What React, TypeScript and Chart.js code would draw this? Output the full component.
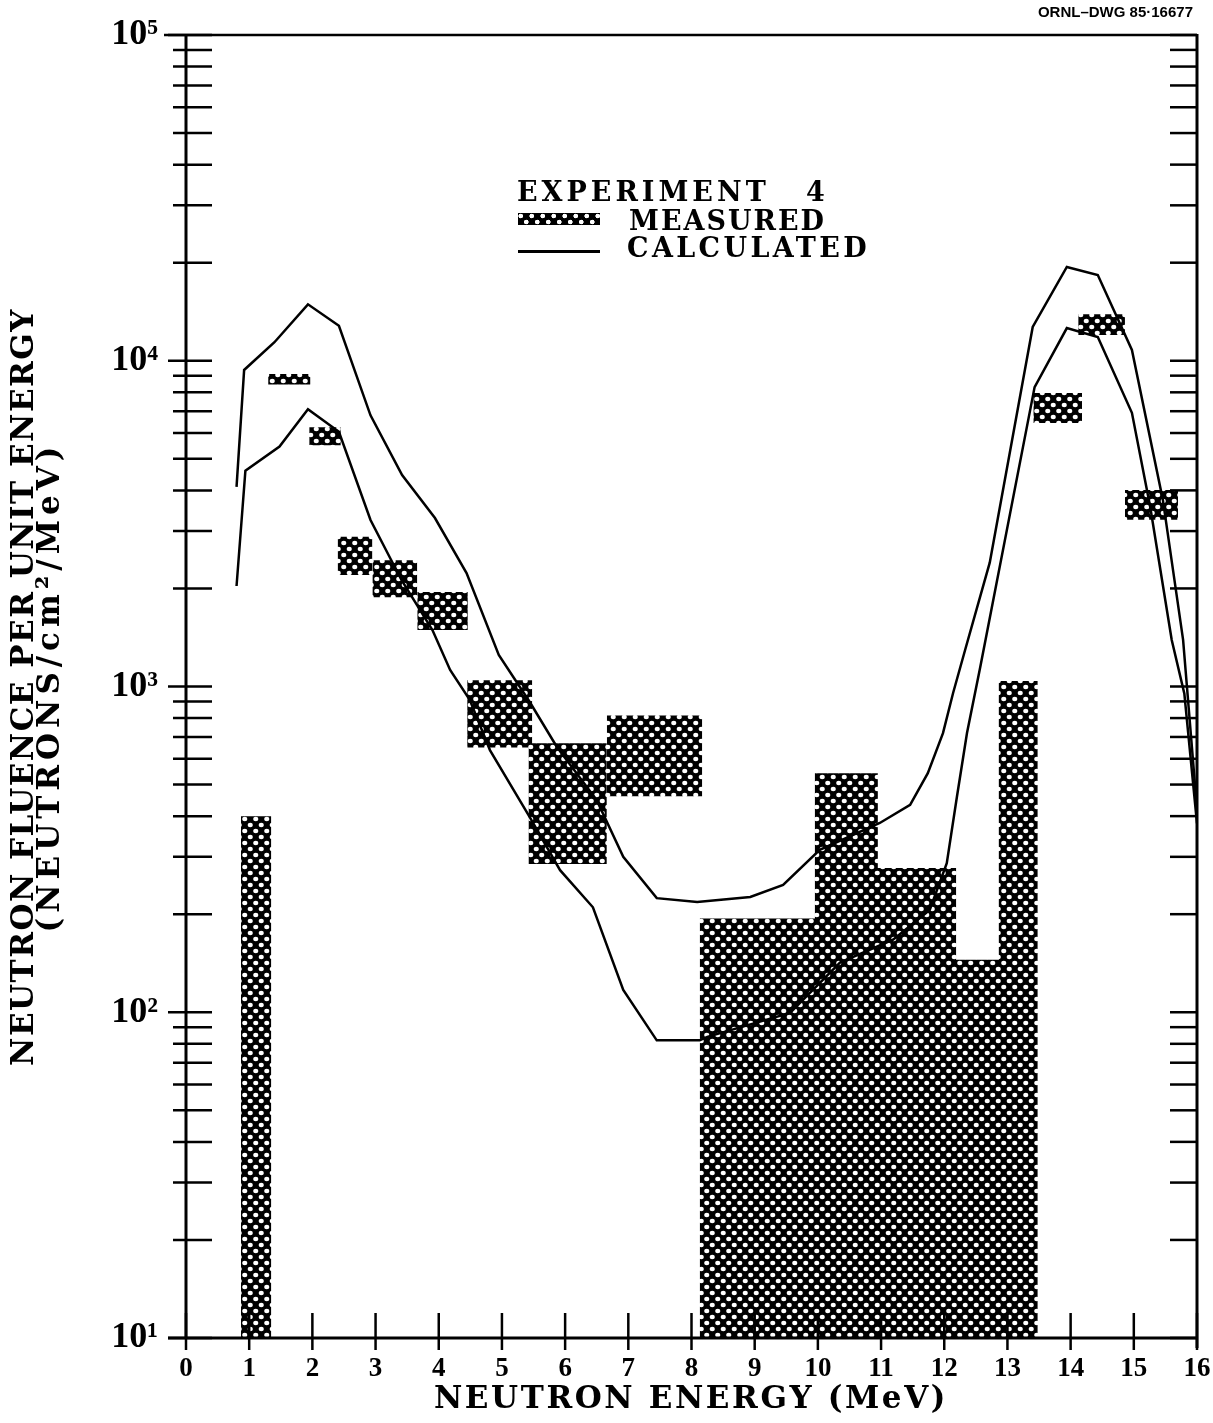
import React, { useEffect, useRef } from 'react';
import { Chart, registerables } from 'chart.js';

Chart.register(...registerables);

// ---------- DATA ----------
// Calculated spectrum, upper curve (energy MeV, fluence per MeV)
const calcUpperX = [0.8, 0.92, 1.4, 1.93, 2.42, 2.92, 3.42, 3.94, 4.44, 4.95, 5.44, 5.87, 6.5, 6.92, 7.45, 8.09, 8.93, 9.45, 10.03, 10.98, 11.46, 11.74, 11.98, 12.14, 12.33, 12.72, 13.4, 13.94, 14.43, 14.97, 15.46, 15.78, 16.0];
const calcUpperY = [4100, 9370, 11400, 14900, 12800, 6800, 4460, 3290, 2230, 1250, 896, 652, 448, 300, 224, 218, 226, 246, 315, 381, 433, 542, 719, 955, 1294, 2400, 12700, 19400, 18340, 10790, 3740, 1390, 420];

// Calculated spectrum, lower curve
const calcLowerX = [0.8, 0.94, 1.48, 1.93, 2.42, 2.92, 3.41, 3.9, 4.18, 4.49, 4.81, 5.44, 5.92, 6.44, 6.92, 7.45, 8.13, 8.25, 9.56, 10.35, 11.19, 11.77, 12.04, 12.2, 12.36, 12.57, 13.43, 13.94, 14.43, 14.97, 15.26, 15.6, 15.8, 16.0];
const calcLowerY = [2035, 4600, 5450, 7100, 6055, 3245, 2123, 1490, 1124, 910, 638, 397, 273, 210, 117, 82, 82, 84, 99.5, 142, 167, 206, 287, 458, 720, 1148, 8300, 12600, 11830, 6920, 3557, 1390, 950, 380];

// Measured spectrum: energy bins with lower / upper fluence bounds
const measLeft = [0.87, 1.3, 1.95, 2.4, 2.95, 3.66, 4.45, 5.42, 6.66, 8.13, 9.95, 10.93, 12.16, 12.86, 13.41, 14.12, 14.86];
const measRight = [1.35, 1.97, 2.45, 2.95, 3.66, 4.46, 5.48, 6.66, 8.17, 9.99, 10.95, 12.19, 12.88, 13.48, 14.18, 14.86, 15.7];
const measLow = [10, 8450, 5500, 2200, 1880, 1490, 650, 285, 460, 10, 10, 10, 10, 10, 6440, 12000, 3250];
const measHigh = [400, 9100, 6250, 2880, 2440, 1950, 1045, 670, 815, 194, 542, 277, 145, 1040, 7960, 13900, 4010];

// Axis ticks
const yDecades = [10, 100, 1000, 10000, 100000];
const yMultipliers = [1, 2, 3, 4, 5, 6, 7, 8, 9];
const xTickValues = [0, 1, 2, 3, 4, 5, 6, 7, 8, 9, 10, 11, 12, 13, 14, 15, 16];
const supDigits: Record<number, string> = { 1: '\u00B9', 2: '\u00B2', 3: '\u00B3', 4: '\u2074', 5: '\u2075' };

const yTickValues: number[] = [];
yDecades.forEach((d, i) => {
  if (i === yDecades.length - 1) {
    yTickValues.push(d);
  } else {
    yMultipliers.forEach((m) => yTickValues.push(d * m));
  }
});

function makeHatch(ctx: CanvasRenderingContext2D): CanvasPattern | string {
  const c = document.createElement('canvas');
  c.width = 11;
  c.height = 12;
  const g = c.getContext('2d');
  if (!g) return '#000';
  g.fillStyle = '#000';
  g.fillRect(0, 0, 11, 12);
  g.fillStyle = '#fff';
  const holes = [[2.75, 3], [8.25, 9]];
  holes.forEach(([cx, cy]) => {
    g.beginPath();
    g.ellipse(cx, cy, 2.6, 2.2, 0, 0, Math.PI * 2);
    g.fill();
  });
  return ctx.createPattern(c, 'repeat') || '#000';
}

const framePlugin = {
  id: 'frameTicks',
  afterDatasetsDraw(chart: any) {
    const { ctx, chartArea, scales } = chart;
    const { left, right, top, bottom } = chartArea;
    const x = scales.x;
    const y = scales.y;
    ctx.save();
    ctx.strokeStyle = '#000';
    ctx.lineCap = 'butt';
    ctx.lineWidth = 2.5;
    yTickValues.forEach((v) => {
      const py = y.getPixelForValue(v);
      const major = yDecades.includes(v);
      ctx.beginPath();
      ctx.moveTo(left - (major ? 18 : 13), py);
      ctx.lineTo(left + 26, py);
      ctx.stroke();
      ctx.beginPath();
      ctx.moveTo(right - 27, py);
      ctx.lineTo(right, py);
      ctx.stroke();
    });
    xTickValues.forEach((v) => {
      const px = x.getPixelForValue(v);
      ctx.beginPath();
      ctx.moveTo(px, bottom - 25);
      ctx.lineTo(px, bottom + 12);
      ctx.stroke();
    });
    // frame
    ctx.lineWidth = 3;
    ctx.beginPath();
    ctx.moveTo(left, top);
    ctx.lineTo(left, bottom);
    ctx.stroke();
    ctx.beginPath();
    ctx.moveTo(left - 18, bottom);
    ctx.lineTo(right, bottom);
    ctx.stroke();
    ctx.beginPath();
    ctx.moveTo(right, top - 1);
    ctx.lineTo(right, bottom + 10);
    ctx.stroke();
    ctx.lineWidth = 2.5;
    ctx.beginPath();
    ctx.moveTo(left - 22, top);
    ctx.lineTo(right, top);
    ctx.stroke();
    ctx.restore();
  },
};

const serif = '"DejaVu Serif", serif';

export default function App() {
  const canvasRef = useRef<HTMLCanvasElement | null>(null);

  useEffect(() => {
    const canvas = canvasRef.current;
    if (!canvas) return;
    const ctx = canvas.getContext('2d');
    if (!ctx) return;
    const hatch = makeHatch(ctx);

    const lineDatasets = [
      { xs: calcUpperX, ys: calcUpperY },
      { xs: calcLowerX, ys: calcLowerY },
    ].map((s) => ({
      label: 'CALCULATED',
      data: s.xs.map((xv, i) => ({ x: xv, y: s.ys[i] })),
      borderColor: '#000',
      borderWidth: 2.5,
      pointRadius: 0,
      tension: 0,
      fill: false,
    }));

    const measDatasets = measLeft.map((x0, i) => ({
      label: 'MEASURED',
      data: [
        { x: x0, y: measHigh[i] },
        { x: measRight[i], y: measHigh[i] },
      ],
      borderWidth: 0,
      borderColor: 'rgba(0,0,0,0)',
      pointRadius: 0,
      tension: 0,
      fill: { value: measLow[i] },
      backgroundColor: hatch,
    }));

    const chart = new Chart(ctx, {
      type: 'line',
      data: { datasets: [...lineDatasets, ...measDatasets] as any },
      options: {
        animation: false,
        responsive: false,
        devicePixelRatio: 1,
        layout: { padding: { top: 35, right: 16, left: 0, bottom: 0 } },
        plugins: { legend: { display: false }, tooltip: { enabled: false } },
        scales: {
          x: {
            type: 'linear',
            min: 0,
            max: 16,
            grid: { display: false, drawTicks: false },
            border: { display: false },
            ticks: {
              stepSize: 1,
              color: '#000',
              padding: 15,
              font: { family: '"Liberation Serif", serif', weight: 'bold', size: 27 },
            },
            afterBuildTicks: (scale: any) => {
              scale.ticks = xTickValues.map((v) => ({ value: v }));
            },
            afterFit: (scale: any) => {
              scale.height = 85;
              scale.paddingLeft = 0;
              scale.paddingRight = 0;
            },
          },
          y: {
            type: 'logarithmic',
            min: 10,
            max: 100000,
            grid: { display: false, drawTicks: false },
            border: { display: false },
            ticks: {
              autoSkip: false,
              color: '#000',
              padding: 28,
              font: { family: '"Liberation Serif", serif', weight: 'bold', size: 36 },
              callback: (value: any) => {
                const v = Number(value);
                const e = Math.round(Math.log10(v));
                if (Math.abs(Math.pow(10, e) - v) < 1e-6 && yDecades.includes(v)) {
                  return '10' + supDigits[e];
                }
                return '';
              },
            },
            afterBuildTicks: (scale: any) => {
              scale.ticks = yTickValues.map((v) => ({ value: v }));
            },
            afterFit: (scale: any) => {
              scale.width = 186;
              scale.paddingTop = 0;
              scale.paddingBottom = 0;
            },
          },
        },
      } as any,
      plugins: [framePlugin],
    });

    return () => chart.destroy();
  }, []);

  const hatchCss: React.CSSProperties = {
    backgroundColor: '#000',
    backgroundImage:
      'radial-gradient(circle at 2.75px 3px, #fff 2.1px, transparent 2.6px), radial-gradient(circle at 8.25px 9px, #fff 2.1px, transparent 2.6px)',
    backgroundSize: '11px 12px',
  };

  const legendText: React.CSSProperties = {
    position: 'absolute',
    fontFamily: serif,
    fontWeight: 'bold',
    fontSize: 27,
    lineHeight: '27px',
    letterSpacing: 2,
    whiteSpace: 'nowrap',
    color: '#000',
  };

  const titleFont: React.CSSProperties = {
    fontFamily: serif,
    fontWeight: 'bold',
    fontSize: 31,
    whiteSpace: 'nowrap',
    color: '#000',
  };

  return (
    <div style={{ position: 'absolute', left: 0, top: 0, width: 1213, height: 1423, background: '#fff', overflow: 'hidden' }}>
      <canvas ref={canvasRef} width={1213} height={1423} style={{ position: 'absolute', left: 0, top: 0, width: 1213, height: 1423 }} />

      <div
        style={{
          position: 'absolute',
          right: 20,
          top: 4,
          fontFamily: '"Liberation Sans", Arial, sans-serif',
          fontWeight: 'bold',
          fontSize: 15,
          lineHeight: '15px',
          color: '#000',
          whiteSpace: 'nowrap',
        }}
      >
        ORNL–DWG 85·16677
      </div>

      {/* legend */}
      <div style={{ ...legendText, letterSpacing: 4, left: 517, top: 178 }}>EXPERIMENT</div>
      <div style={{ ...legendText, left: 806, top: 178 }}>4</div>
      <div style={{ position: 'absolute', left: 518, top: 213, width: 82, height: 12, ...hatchCss }} />
      <div style={{ ...legendText, left: 629, top: 207 }}>MEASURED</div>
      <div style={{ position: 'absolute', left: 518, top: 250, width: 82, height: 2.5, background: '#000' }} />
      <div style={{ ...legendText, letterSpacing: 3.4, left: 627, top: 234 }}>CALCULATED</div>

      {/* x axis title */}
      <div style={{ ...titleFont, letterSpacing: 2.6, position: 'absolute', left: 191, width: 1000, top: 1382, lineHeight: '31px', textAlign: 'center' }}>
        NEUTRON ENERGY (MeV)
      </div>

      {/* y axis title */}
      <div
        style={{
          ...titleFont,
          position: 'absolute',
          left: 35 - 450,
          top: 687 - 26,
          width: 900,
          height: 52,
          transform: 'rotate(-90deg)',
          transformOrigin: '50% 50%',
          textAlign: 'center',
          lineHeight: '26px',
        }}
      >
        <div style={{ letterSpacing: 1.5 }}>NEUTRON FLUENCE PER UNIT ENERGY</div>
        <div style={{ letterSpacing: 5 }}>(NEUTRONS/cm²/MeV)</div>
      </div>
    </div>
  );
}
